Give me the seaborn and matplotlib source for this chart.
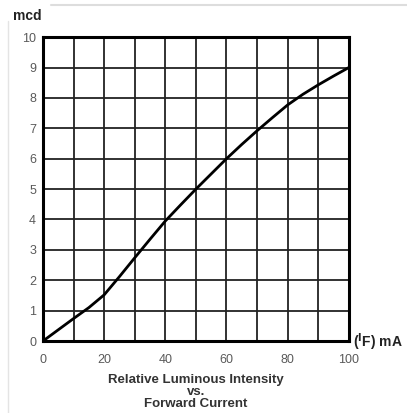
import matplotlib
matplotlib.use('Agg')
import matplotlib.pyplot as plt
import seaborn as sns
import pandas as pd

# forward current (mA) vs luminous intensity (mcd)
current_ma = [0, 5, 10, 15, 20, 25, 30, 35, 40, 45, 50, 55, 60, 65, 70, 75, 80, 85, 90, 95, 100]
intensity_mcd = [0, 0.37, 0.74, 1.1, 1.52, 2.12, 2.74, 3.35, 3.95, 4.48, 5.0,
                 5.5, 6.0, 6.47, 6.92, 7.35, 7.77, 8.12, 8.43, 8.72, 9.0]
x_ticks = [0, 20, 40, 60, 80, 100]
y_ticks = list(range(0, 11))

sns.set_style('white')
plt.rcParams['font.family'] = ['Liberation Sans', 'DejaVu Sans']

df = pd.DataFrame({'current': current_ma, 'intensity': intensity_mcd})

fig = plt.figure(figsize=(4.07, 4.13), dpi=100)
ax = fig.add_axes([0.1057, 0.1743, 0.7513, 0.7357])

sns.lineplot(data=df, x='current', y='intensity', ax=ax, color='black', linewidth=2.0)

ax.set_xlim(0, 100)
ax.set_ylim(0, 10)
ax.set_xticks(range(0, 101, 10))
ax.set_xticklabels([str(v) if v in x_ticks else '' for v in range(0, 101, 10)])
ax.set_yticks(y_ticks)
ax.set_yticklabels([str(v) for v in y_ticks])
ax.grid(True, color='#222222', linewidth=1.3)
ax.tick_params(axis='both', length=0, labelsize=9, colors='#5a5a5a')
ax.tick_params(axis='x', pad=9)
ax.tick_params(axis='y', pad=5)
for s in ax.spines.values():
    s.set_color('black')
    s.set_linewidth(2.2)
ax.set_xlabel('')
ax.set_ylabel('')

fig.text(0.032, 0.962, 'mcd', fontsize=10, fontweight='bold', color='#222222', va='center')
fig.text(0.868, 0.172, r'($^{\mathbf{I}}$F) mA', fontsize=10, fontweight='bold', color='#222222', va='center')
fig.text(0.482, 0.051, 'Relative Luminous Intensity\nvs.\nForward Current', fontsize=9.5,
         fontweight='bold', color='#333333', ha='center', va='center', linespacing=1.0)

# faint screenshot frame
fig.add_artist(plt.Line2D([0.125, 1.0], [0.988, 0.988], color='#dddddd', linewidth=1.5))
fig.add_artist(plt.Line2D([0.02, 0.02], [0.0, 0.95], color='#e4e4e4', linewidth=1.0))

fig.savefig('out.png', dpi=100)
plt.close(fig)
